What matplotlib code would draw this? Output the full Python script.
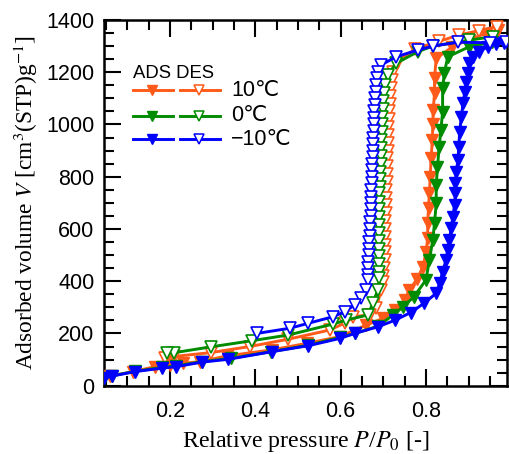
import matplotlib
matplotlib.use("Agg")
import matplotlib.pyplot as plt
from matplotlib.ticker import MultipleLocator, FixedLocator

plt.rcParams['font.family'] = ['Liberation Sans', 'DejaVu Sans']
plt.rcParams['mathtext.fontset'] = 'stix'

# Isotherm data, relative pressure P/P0 and adsorbed volume [cm3(STP)/g]
# 10 C adsorption
p_ads_10 = [0.060, 0.114, 0.165, 0.200, 0.231, 0.270, 0.333, 0.438, 0.520, 0.598,
            0.660, 0.699, 0.728, 0.750, 0.761, 0.780, 0.793, 0.800, 0.804, 0.804,
            0.806, 0.808, 0.810, 0.812, 0.815, 0.816, 0.817, 0.820, 0.820, 0.824,
            0.860, 0.900, 0.940, 0.968]
v_ads_10 = [37, 54, 73, 80, 86, 92, 114, 137, 162, 188,
            232, 258, 290, 328, 366, 410, 456, 510, 565, 622,
            680, 737, 800, 870, 941, 1000, 1055, 1119, 1177, 1253,
            1295, 1325, 1348, 1362]
# 10 C desorption
p_des_10 = [0.966, 0.924, 0.878, 0.830, 0.775, 0.734, 0.722, 0.720, 0.718, 0.716,
            0.715, 0.714, 0.713, 0.712, 0.711, 0.710, 0.710, 0.709, 0.709, 0.708,
            0.708, 0.707, 0.707, 0.706, 0.706, 0.705, 0.705, 0.704, 0.704, 0.703,
            0.703, 0.702, 0.700, 0.699, 0.695, 0.683, 0.668, 0.629, 0.610, 0.574,
            0.477, 0.387, 0.297, 0.210, 0.188]
v_des_10 = [1375, 1359, 1343, 1318, 1290, 1240, 1202, 1170, 1140, 1110,
            1080, 1050, 1020, 990, 960, 930, 900, 870, 840, 810,
            780, 750, 720, 690, 660, 630, 600, 570, 540, 510,
            480, 450, 420, 398, 366, 296, 271, 264, 240, 213,
            178, 150, 127, 112, 105]

# 0 C adsorption
p_ads_0 = [0.045, 0.064, 0.118, 0.180, 0.214, 0.274, 0.343, 0.436, 0.524, 0.598,
           0.633, 0.688, 0.722, 0.747, 0.772, 0.800, 0.808, 0.816, 0.820, 0.824,
           0.824, 0.827, 0.831, 0.835, 0.839, 0.839, 0.843, 0.851, 0.902, 0.955]
v_ads_0 = [30, 38, 55, 70, 76, 92, 105, 130, 155, 185,
           200, 228, 270, 303, 341, 405, 481, 558, 622, 698,
           768, 838, 915, 979, 1049, 1138, 1196, 1259, 1298, 1315]
# 0 C desorption
p_des_0 = [0.956, 0.902, 0.816, 0.781, 0.730, 0.710, 0.703, 0.701, 0.700, 0.699,
           0.698, 0.697, 0.696, 0.695, 0.695, 0.694, 0.694, 0.693, 0.693, 0.692,
           0.691, 0.691, 0.690, 0.690, 0.690, 0.689, 0.689, 0.689, 0.689, 0.690,
           0.691, 0.691, 0.687, 0.675, 0.664, 0.613, 0.582, 0.477, 0.391, 0.297,
           0.208, 0.192]
v_des_0 = [1336, 1323, 1300, 1279, 1234, 1189, 1150, 1119, 1090, 1060,
           1030, 1000, 970, 940, 910, 880, 850, 820, 790, 760,
           737, 705, 675, 645, 615, 585, 555, 525, 495, 465,
           435, 411, 366, 315, 271, 251, 236, 194, 172, 149,
           126, 126]

# -10 C adsorption
p_ads_m10 = [0.044, 0.064, 0.118, 0.180, 0.214, 0.274, 0.336, 0.438, 0.524, 0.598,
             0.633, 0.688, 0.728, 0.764, 0.795, 0.824, 0.832, 0.839, 0.847, 0.851,
             0.855, 0.859, 0.863, 0.867, 0.869, 0.869, 0.871, 0.875, 0.877, 0.879,
             0.883, 0.887, 0.891, 0.895, 0.899, 0.902, 0.910, 0.925, 0.945, 0.964,
             0.984]
v_ads_m10 = [28, 37, 54, 67, 73, 90, 101, 130, 153, 181,
             200, 226, 251, 280, 315, 354, 392, 436, 481, 519,
             558, 602, 647, 692, 737, 775, 819, 864, 915, 972,
             1030, 1081, 1125, 1164, 1196, 1234, 1259, 1279, 1298, 1308,
             1313]
# -10 C desorption
p_des_m10 = [0.987, 0.949, 0.875, 0.816, 0.781, 0.730, 0.695, 0.687, 0.685, 0.683,
             0.682, 0.681, 0.680, 0.679, 0.678, 0.677, 0.677, 0.676, 0.676, 0.675,
             0.675, 0.674, 0.674, 0.673, 0.673, 0.672, 0.672, 0.671, 0.670, 0.670,
             0.669, 0.668, 0.668, 0.667, 0.667, 0.666, 0.665, 0.665, 0.664, 0.664,
             0.660, 0.648, 0.633, 0.609, 0.582, 0.524, 0.481, 0.403]
v_des_m10 = [1317, 1313, 1315, 1300, 1285, 1259, 1228, 1202, 1177, 1151,
             1126, 1100, 1075, 1050, 1025, 1000, 975, 950, 925, 900,
             875, 850, 825, 800, 775, 750, 723, 700, 675, 650,
             625, 600, 575, 550, 525, 500, 475, 450, 425, 405,
             366, 335, 309, 283, 264, 239, 220, 200]

temps = ["10\u2103", "0\u2103", "\u221210\u2103"]
colors = ["#ff5a1a", "#008c00", "#0000ff"]

series = [
    (p_ads_10, v_ads_10, p_des_10, v_des_10),
    (p_ads_0, v_ads_0, p_des_0, v_des_0),
    (p_ads_m10, v_ads_m10, p_des_m10, v_des_m10),
]

fig = plt.figure(figsize=(5.09, 4.54), dpi=100)
ax = fig.add_axes([104 / 509, (454 - 385.7) / 454, (507 - 104) / 509, (385.7 - 20) / 454])

for (pa, va, pd_, vd), c in zip(series, colors):
    ax.plot(pa, va, color=c, lw=2.1, marker="v", ms=8.5, mfc=c, mec=c, zorder=3)
    ax.plot(pd_, vd, color=c, lw=2.1, marker="v", ms=8.5, mfc="white", mec=c,
            mew=1.2, zorder=3)

ax.set_xlim(0.045, 0.99)
ax.set_ylim(0, 1400)
ax.xaxis.set_major_locator(FixedLocator([0.2, 0.4, 0.6, 0.8]))
ax.xaxis.set_minor_locator(MultipleLocator(0.05))
ax.yaxis.set_major_locator(MultipleLocator(200))
ax.yaxis.set_minor_locator(MultipleLocator(50))
ax.set_xticklabels(["0.2", "0.4", "0.6", "0.8"])

ax.tick_params(which="both", direction="in", top=True, right=True, width=1.5,
               labelsize=15.5)
ax.tick_params(which="major", length=12)
ax.tick_params(which="minor", length=7)
ax.tick_params(axis="x", pad=11)
ax.tick_params(axis="y", pad=7)
for s in ax.spines.values():
    s.set_linewidth(1.8)

ax.set_xlabel("Relative pressure $P$/$P_0$ [-]", family="Liberation Serif",
              fontsize=17.3, labelpad=5)
ax.set_ylabel("Adsorbed volume $V$ [cm$^3$(STP)g$^{-1}$]", family="Liberation Serif",
              fontsize=16.8, labelpad=4)

# hand-made legend: adsorption / desorption columns
ax.text(0.072, 0.855, "ADS DES", transform=ax.transAxes, fontsize=13.3,
        ha="left", va="center")
rows_y = [0.808, 0.738, 0.674]
for yy, c, t in zip(rows_y, colors, temps):
    ax.plot([0.072, 0.171], [yy, yy], color=c, lw=2.1, transform=ax.transAxes)
    ax.plot([0.119], [yy], marker="v", ms=6.5, color=c, transform=ax.transAxes)
    ax.plot([0.189, 0.288], [yy, yy], color=c, lw=2.1, transform=ax.transAxes)
    ax.plot([0.236], [yy], marker="v", ms=6.5, mfc="white", mec=c, mew=1.1,
            transform=ax.transAxes)
    ax.text(0.315, yy, t, transform=ax.transAxes, fontsize=15.5, ha="left",
            va="center")

fig.savefig("out.png", dpi=100)
